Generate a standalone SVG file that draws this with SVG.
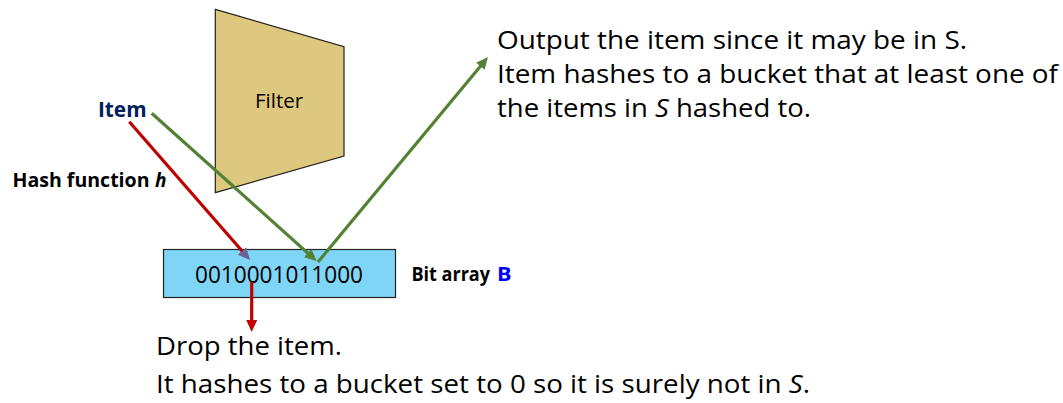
<svg xmlns="http://www.w3.org/2000/svg" width="1063" height="403" viewBox="0 0 1063 403">
  <style>
    .t { font-family: "Open Sans", "Liberation Sans", Arial, sans-serif; fill: #000; }
    .b { font-weight: bold; }
    .big { font-size: 25px; }
    .red { stroke: #c00000; stroke-width: 3.2; fill: none; }
    .green { stroke: #548235; stroke-width: 3.2; fill: none; }
  </style>
  <defs>
    <marker id="ah-red" viewBox="0 -6 12 12" refX="4" refY="0" markerWidth="12" markerHeight="12" markerUnits="userSpaceOnUse" orient="auto">
      <path d="M0,-5.5 L12,0 L0,5.5 z" fill="#c00000"/>
    </marker>
    <marker id="ah-slate" viewBox="0 -6 12 12" refX="4" refY="0" markerWidth="12" markerHeight="12" markerUnits="userSpaceOnUse" orient="auto">
      <path d="M0,-5.5 L12,0 L0,5.5 z" fill="#6a6290"/>
    </marker>
    <marker id="ah-green" viewBox="0 -6 12 12" refX="4" refY="0" markerWidth="12" markerHeight="12" markerUnits="userSpaceOnUse" orient="auto">
      <path d="M0,-5.5 L12,0 L0,5.5 z" fill="#548235"/>
    </marker>
  </defs>

  <rect width="1063" height="403" fill="#fff"/>

  <!-- filter trapezoid -->
  <g id="filter">
    <polygon points="215.3,9.3 344,46.7 344,156 215.3,192.7" fill="#dec77e" stroke="#222" stroke-width="1.2"/>
    <text class="t" x="255" y="108" font-size="20" textLength="48" lengthAdjust="spacingAndGlyphs">Filter</text>
  </g>

  <!-- bit array -->
  <g id="bit-array">
    <rect x="163.5" y="249.5" width="232" height="48" fill="#7fd5f6" stroke="#222" stroke-width="1.2"/>
    <text class="t" x="195" y="283" font-size="24.5" textLength="168" lengthAdjust="spacingAndGlyphs">0010001011000</text>
  </g>

  <g id="item-label">
    <text class="t b" x="98" y="117.3" font-size="22" textLength="48.5" lengthAdjust="spacingAndGlyphs" style="fill:#002060">Item</text>
  </g>

  <g id="hash-label">
    <text class="t b" x="12.5" y="187" font-size="20" textLength="137" lengthAdjust="spacingAndGlyphs">Hash function</text>
    <text class="t b" x="155" y="187" font-size="20" font-style="italic" textLength="11.5" lengthAdjust="spacingAndGlyphs">h</text>
  </g>

  <g id="bit-array-label">
    <text class="t b" x="411.5" y="281" font-size="20" textLength="78.5" lengthAdjust="spacingAndGlyphs">Bit array</text>
    <text class="t b" x="497" y="281" font-size="20" textLength="14.5" lengthAdjust="spacingAndGlyphs" style="fill:#0000ff">B</text>
  </g>

  <g id="pass-note">
    <text class="t big" x="497" y="49" textLength="470" lengthAdjust="spacingAndGlyphs">Output the item since it may be in S.</text>
    <text class="t big" x="497" y="83" textLength="561" lengthAdjust="spacingAndGlyphs">Item hashes to a bucket that at least one of</text>
    <text class="t big" x="497" y="117" textLength="314" lengthAdjust="spacingAndGlyphs">the items in <tspan font-style="italic">S</tspan> hashed to.</text>
  </g>

  <g id="drop-note">
    <text class="t big" x="156" y="355" textLength="186" lengthAdjust="spacingAndGlyphs">Drop the item.</text>
    <text class="t big" x="156" y="393" textLength="654" lengthAdjust="spacingAndGlyphs">It hashes to a bucket set to 0 so it is surely not in <tspan font-style="italic">S</tspan>.</text>
  </g>

  <!-- connectors -->
  <g id="connectors">
    <line class="red" x1="129.3" y1="121.7" x2="244.7" y2="254" marker-end="url(#ah-slate)"/>
    <line class="green" x1="151.7" y1="113.3" x2="310.7" y2="255.7" marker-end="url(#ah-green)"/>
    <line class="green" x1="318" y1="262" x2="482.9" y2="63.2" marker-end="url(#ah-green)"/>
    <line class="red" x1="251.7" y1="282" x2="251.7" y2="324" marker-end="url(#ah-red)"/>
  </g>
</svg>
